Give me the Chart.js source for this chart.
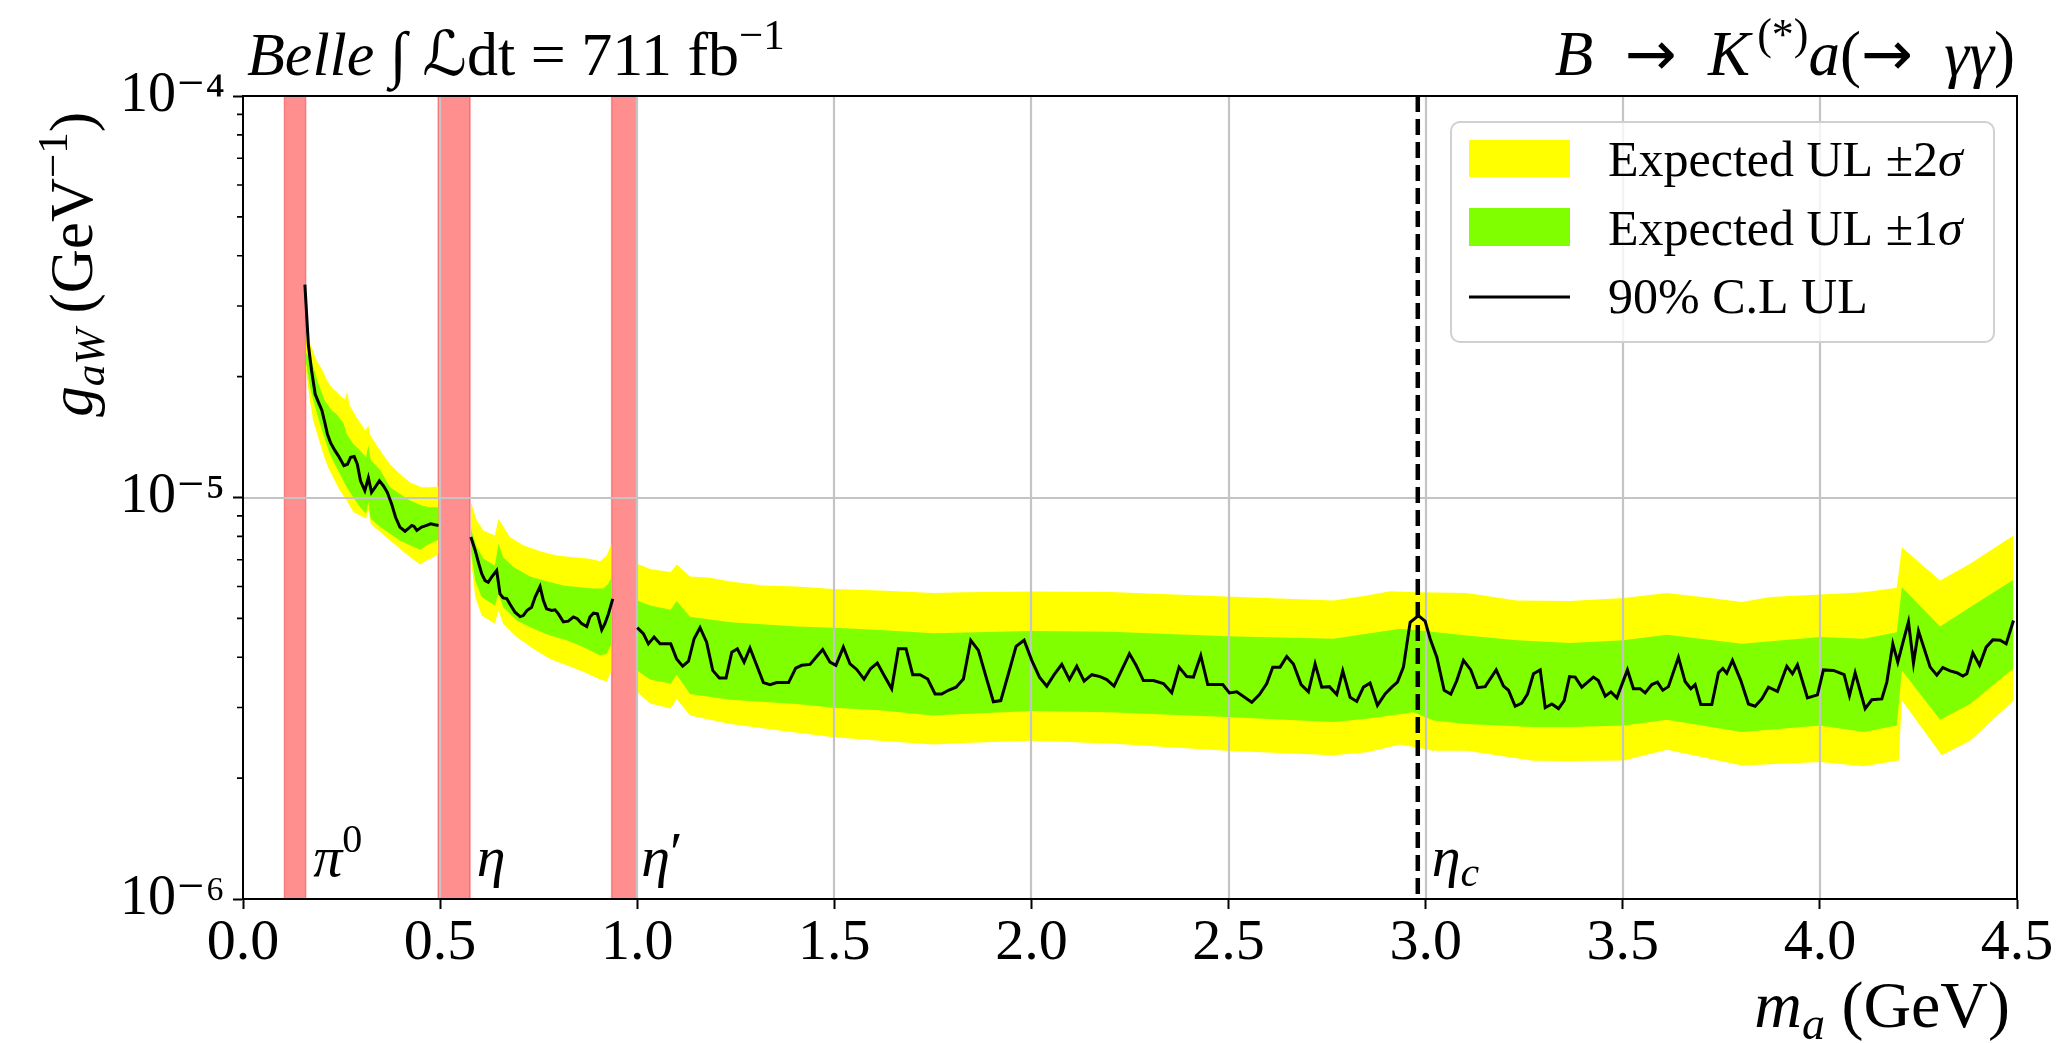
<!DOCTYPE html>
<html><head><meta charset="utf-8">
<script src="https://cdn.jsdelivr.net/npm/chart.js@4/dist/chart.umd.min.js"></script>
<style>html,body{margin:0;padding:0;background:#fff;overflow:hidden}#wrap{position:relative;width:2060px;height:1043px}canvas{display:block}</style>
</head><body><div id="wrap"><canvas id="c" width="2060" height="1043"></canvas></div>
<script>
// ---------------- DATA (mass in GeV, g_aW in GeV^-1) ----------------
const xTickValues = [0, 0.5, 1.0, 1.5, 2.0, 2.5, 3.0, 3.5, 4.0, 4.5];
const xTickLabels = ['0.0','0.5','1.0','1.5','2.0','2.5','3.0','3.5','4.0','4.5'];
const yTickValues = [1e-6, 1e-5, 1e-4];
const yTickLabels = ['10\u207B\u2076','10\u207B\u2075','10\u207B\u2074'];
const yMinorValues = [2e-6,3e-6,4e-6,5e-6,6e-6,7e-6,8e-6,9e-6,2e-5,3e-5,4e-5,5e-5,6e-5,7e-5,8e-5,9e-5];

const vetoRegions = [[0.105,0.159],[0.495,0.576],[0.935,0.999]];
const vetoLabelPos = [0.178, 0.593, 1.010];
const etaCMass = 2.98;

// observed 90% C.L. upper limit, three mass segments
const ulA = [[0.157,3.39e-5],[0.166,2.39e-5],[0.174,2.07e-5],[0.183,1.81e-5],[0.191,1.73e-5],[0.200,1.65e-5],[0.208,1.53e-5],[0.214,1.44e-5],[0.222,1.37e-5],[0.233,1.31e-5],[0.242,1.27e-5],[0.256,1.20e-5],[0.265,1.21e-5],[0.273,1.26e-5],[0.282,1.265e-5],[0.290,1.21e-5],[0.298,1.10e-5],[0.309,1.04e-5],[0.318,1.12e-5],[0.326,1.03e-5],[0.335,1.06e-5],[0.346,1.10e-5],[0.356,1.07e-5],[0.366,1.03e-5],[0.377,9.64e-6],[0.387,8.93e-6],[0.398,8.44e-6],[0.411,8.24e-6],[0.419,8.36e-6],[0.428,8.52e-6],[0.434,8.47e-6],[0.441,8.28e-6],[0.453,8.44e-6],[0.466,8.52e-6],[0.476,8.60e-6],[0.487,8.55e-6],[0.496,8.52e-6]];
const ulB = [[0.578,7.97e-6],[0.589,7.38e-6],[0.597,6.90e-6],[0.6055,6.46e-6],[0.614,6.21e-6],[0.622,6.15e-6],[0.631,6.34e-6],[0.6435,6.58e-6],[0.652,5.75e-6],[0.660,5.62e-6],[0.669,5.60e-6],[0.677,5.43e-6],[0.690,5.18e-6],[0.703,5.05e-6],[0.711,5.08e-6],[0.720,5.23e-6],[0.732,5.33e-6],[0.741,5.65e-6],[0.7535,6.00e-6],[0.762,5.54e-6],[0.770,5.28e-6],[0.783,5.23e-6],[0.7915,5.25e-6],[0.800,5.13e-6],[0.8126,4.90e-6],[0.825,4.92e-6],[0.838,5.04e-6],[0.848,4.99e-6],[0.859,4.85e-6],[0.872,4.77e-6],[0.880,5.04e-6],[0.889,5.15e-6],[0.899,5.13e-6],[0.910,4.68e-6],[0.918,4.85e-6],[0.927,5.13e-6],[0.938,5.59e-6]];
const ulC = [[1.000,4.74e-6],[1.0156,4.58e-6],[1.0283,4.32e-6],[1.0427,4.49e-6],[1.0579,4.32e-6],[1.085,4.32e-6],[1.100,3.96e-6],[1.1153,3.80e-6],[1.130,3.91e-6],[1.1443,4.45e-6],[1.1593,4.74e-6],[1.176,4.36e-6],[1.1915,3.71e-6],[1.2083,3.55e-6],[1.2253,3.55e-6],[1.2399,4.12e-6],[1.254,4.20e-6],[1.2711,3.89e-6],[1.286,4.22e-6],[1.303,3.82e-6],[1.320,3.46e-6],[1.337,3.42e-6],[1.354,3.46e-6],[1.384,3.46e-6],[1.402,3.76e-6],[1.4172,3.82e-6],[1.4383,3.84e-6],[1.4536,4.00e-6],[1.4705,4.18e-6],[1.489,3.89e-6],[1.504,3.82e-6],[1.5229,4.24e-6],[1.5398,3.85e-6],[1.5567,3.73e-6],[1.5753,3.53e-6],[1.5922,3.75e-6],[1.6091,3.87e-6],[1.626,3.61e-6],[1.6455,3.34e-6],[1.6624,4.20e-6],[1.6818,4.20e-6],[1.6988,3.62e-6],[1.7174,3.62e-6],[1.7368,3.53e-6],[1.7555,3.24e-6],[1.7724,3.24e-6],[1.7893,3.31e-6],[1.8088,3.37e-6],[1.8274,3.53e-6],[1.846,4.41e-6],[1.8655,4.16e-6],[1.885,3.57e-6],[1.9035,3.10e-6],[1.9222,3.12e-6],[1.9416,3.64e-6],[1.961,4.26e-6],[1.9813,4.41e-6],[2.0008,3.93e-6],[2.0203,3.57e-6],[2.0389,3.39e-6],[2.0575,3.62e-6],[2.077,3.84e-6],[2.0964,3.52e-6],[2.115,3.80e-6],[2.1337,3.49e-6],[2.1531,3.62e-6],[2.1742,3.58e-6],[2.191,3.52e-6],[2.2096,3.39e-6],[2.2485,4.08e-6],[2.2654,3.82e-6],[2.284,3.50e-6],[2.3094,3.50e-6],[2.3348,3.44e-6],[2.3559,3.265e-6],[2.3745,3.78e-6],[2.394,3.58e-6],[2.4109,3.57e-6],[2.4295,4.04e-6],[2.4472,3.42e-6],[2.4853,3.42e-6],[2.5022,3.26e-6],[2.5208,3.28e-6],[2.5589,3.09e-6],[2.5783,3.23e-6],[2.5969,3.44e-6],[2.6121,3.78e-6],[2.6307,3.78e-6],[2.6476,4.02e-6],[2.6645,3.85e-6],[2.684,3.42e-6],[2.7026,3.28e-6],[2.7195,3.85e-6],[2.7364,3.37e-6],[2.7558,3.38e-6],[2.7745,3.23e-6],[2.7897,3.70e-6],[2.8083,3.18e-6],[2.8252,3.105e-6],[2.8421,3.37e-6],[2.859,3.45e-6],[2.8777,3.035e-6],[2.8971,3.24e-6],[2.914,3.37e-6],[2.9284,3.47e-6],[2.9436,3.78e-6],[2.9606,4.89e-6],[2.9817,5.08e-6],[2.9986,4.92e-6],[3.0113,4.45e-6],[3.0283,4.00e-6],[3.0469,3.31e-6],[3.0638,3.24e-6],[3.079,3.50e-6],[3.0959,3.93e-6],[3.1145,3.72e-6],[3.1314,3.36e-6],[3.1509,3.38e-6],[3.1788,3.72e-6],[3.1974,3.39e-6],[3.2101,3.31e-6],[3.227,3.02e-6],[3.2439,3.075e-6],[3.2583,3.24e-6],[3.2735,3.64e-6],[3.2905,3.72e-6],[3.3032,2.995e-6],[3.3201,3.06e-6],[3.337,2.98e-6],[3.3514,3.12e-6],[3.3649,3.58e-6],[3.3793,3.57e-6],[3.396,3.37e-6],[3.4255,3.57e-6],[3.438,3.50e-6],[3.4555,3.20e-6],[3.4699,3.28e-6],[3.4851,3.17e-6],[3.5118,3.72e-6],[3.527,3.34e-6],[3.544,3.34e-6],[3.5567,3.26e-6],[3.5736,3.42e-6],[3.5879,3.47e-6],[3.6015,3.31e-6],[3.6158,3.38e-6],[3.6412,4.00e-6],[3.6581,3.48e-6],[3.6725,3.34e-6],[3.6835,3.42e-6],[3.6979,3.05e-6],[3.7258,3.05e-6],[3.7427,3.66e-6],[3.7537,3.75e-6],[3.7638,3.65e-6],[3.7782,3.93e-6],[3.7994,3.50e-6],[3.8188,3.06e-6],[3.8357,3.02e-6],[3.8526,3.15e-6],[3.8695,3.37e-6],[3.8924,3.29e-6],[3.916,3.80e-6],[3.9304,3.64e-6],[3.9431,3.83e-6],[3.9685,3.17e-6],[3.9938,3.225e-6],[4.009,3.72e-6],[4.0344,3.71e-6],[4.0615,3.62e-6],[4.075,3.21e-6],[4.0894,3.66e-6],[4.1148,2.98e-6],[4.1317,3.135e-6],[4.1571,3.15e-6],[4.1698,3.47e-6],[4.185,4.32e-6],[4.1976,3.89e-6],[4.212,4.41e-6],[4.2247,4.90e-6],[4.2374,3.87e-6],[4.2501,4.65e-6],[4.2797,3.78e-6],[4.2966,3.61e-6],[4.3118,3.77e-6],[4.3304,3.70e-6],[4.3473,3.66e-6],[4.3626,3.59e-6],[4.3727,3.64e-6],[4.3879,4.10e-6],[4.4049,3.82e-6],[4.4218,4.24e-6],[4.4387,4.42e-6],[4.4573,4.41e-6],[4.4725,4.32e-6],[4.4911,4.94e-6]];

// expected UL bands: +2σ, +1σ, -1σ, -2σ edges for each segment
const exp2UpA = [[0.159,2.55e-5],[0.174,2.37e-5],[0.187,2.19e-5],[0.200,2.09e-5],[0.214,1.95e-5],[0.225,1.88e-5],[0.238,1.83e-5],[0.250,1.78e-5],[0.259,1.76e-5],[0.264,1.84e-5],[0.270,1.70e-5],[0.288,1.585e-5],[0.310,1.47e-5],[0.318,1.51e-5],[0.323,1.43e-5],[0.348,1.31e-5],[0.373,1.21e-5],[0.398,1.145e-5],[0.424,1.09e-5],[0.453,1.06e-5],[0.474,1.06e-5],[0.496,1.065e-5]];
const exp1UpA = [[0.159,2.30e-5],[0.174,2.19e-5],[0.191,1.92e-5],[0.208,1.74e-5],[0.225,1.65e-5],[0.238,1.61e-5],[0.255,1.53e-5],[0.263,1.44e-5],[0.280,1.36e-5],[0.297,1.31e-5],[0.312,1.26e-5],[0.318,1.35e-5],[0.324,1.24e-5],[0.348,1.17e-5],[0.373,1.06e-5],[0.398,1.02e-5],[0.424,9.83e-6],[0.453,9.55e-6],[0.474,9.46e-6],[0.496,9.46e-6]];
const exp1LoA = [[0.159,2.20e-5],[0.170,1.88e-5],[0.183,1.68e-5],[0.195,1.53e-5],[0.208,1.39e-5],[0.221,1.28e-5],[0.233,1.21e-5],[0.246,1.145e-5],[0.263,1.06e-5],[0.280,1.00e-5],[0.297,9.46e-6],[0.312,9.11e-6],[0.318,9.74e-6],[0.324,8.85e-6],[0.348,8.44e-6],[0.373,8.12e-6],[0.398,7.82e-6],[0.424,7.60e-6],[0.449,7.41e-6],[0.466,7.60e-6],[0.496,7.85e-6]];
const exp2LoA = [[0.159,2.10e-5],[0.170,1.74e-5],[0.178,1.555e-5],[0.191,1.41e-5],[0.204,1.28e-5],[0.216,1.19e-5],[0.229,1.12e-5],[0.246,1.04e-5],[0.263,9.83e-6],[0.280,9.20e-6],[0.297,9.02e-6],[0.312,8.85e-6],[0.318,9.28e-6],[0.324,8.60e-6],[0.348,8.20e-6],[0.373,7.82e-6],[0.398,7.45e-6],[0.424,7.10e-6],[0.449,6.81e-6],[0.466,6.97e-6],[0.483,7.10e-6],[0.496,7.24e-6]];

const exp2UpB = [[0.578,9.74e-6],[0.593,8.77e-6],[0.610,8.28e-6],[0.639,8.04e-6],[0.648,8.85e-6],[0.656,8.60e-6],[0.677,7.97e-6],[0.711,7.60e-6],[0.7535,7.35e-6],[0.796,7.17e-6],[0.838,7.10e-6],[0.880,7.04e-6],[0.906,6.94e-6],[0.9225,7.17e-6],[0.935,7.67e-6]];
const exp1UpB = [[0.578,8.36e-6],[0.593,7.52e-6],[0.610,7.04e-6],[0.639,6.77e-6],[0.648,7.67e-6],[0.660,7.10e-6],[0.686,6.71e-6],[0.728,6.36e-6],[0.770,6.19e-6],[0.813,6.04e-6],[0.855,5.98e-6],[0.889,5.93e-6],[0.914,5.93e-6],[0.927,6.10e-6],[0.935,6.34e-6]];
const exp1LoB = [[0.578,7.38e-6],[0.589,6.21e-6],[0.6055,5.65e-6],[0.639,5.38e-6],[0.648,5.75e-6],[0.660,5.33e-6],[0.694,4.94e-6],[0.7365,4.71e-6],[0.779,4.53e-6],[0.821,4.41e-6],[0.863,4.24e-6],[0.906,4.04e-6],[0.9225,4.08e-6],[0.935,4.32e-6]];
const exp2LoB = [[0.578,7.10e-6],[0.589,5.65e-6],[0.6055,5.08e-6],[0.639,4.85e-6],[0.648,5.23e-6],[0.660,4.85e-6],[0.694,4.49e-6],[0.7365,4.20e-6],[0.779,3.96e-6],[0.821,3.82e-6],[0.863,3.68e-6],[0.906,3.52e-6],[0.9225,3.48e-6],[0.935,3.70e-6]];

const exp2UpC = [[1.000,6.84e-6],[1.0325,6.64e-6],[1.085,6.52e-6],[1.100,6.81e-6],[1.134,6.36e-6],[1.185,6.31e-6],[1.236,6.18e-6],[1.320,6.04e-6],[1.405,6.00e-6],[1.498,5.92e-6],[1.616,5.87e-6],[1.751,5.78e-6],[1.827,5.81e-6],[2.000,5.83e-6],[2.200,5.82e-6],[2.495,5.67e-6],[2.766,5.54e-6],[2.851,5.70e-6],[2.910,5.84e-6],[2.978,5.81e-6],[3.104,5.78e-6],[3.231,5.54e-6],[3.366,5.52e-6],[3.502,5.62e-6],[3.612,5.78e-6],[3.722,5.62e-6],[3.802,5.49e-6],[3.874,5.65e-6],[4.001,5.73e-6],[4.111,5.81e-6],[4.195,5.96e-6],[4.208,7.52e-6],[4.305,6.21e-6],[4.381,6.84e-6],[4.491,8.04e-6]];
const exp1UpC = [[1.000,5.54e-6],[1.0325,5.38e-6],[1.085,5.25e-6],[1.100,5.52e-6],[1.134,5.05e-6],[1.236,4.89e-6],[1.405,4.77e-6],[1.498,4.74e-6],[1.616,4.68e-6],[1.751,4.59e-6],[2.000,4.65e-6],[2.200,4.63e-6],[2.495,4.51e-6],[2.766,4.45e-6],[2.851,4.58e-6],[2.935,4.71e-6],[2.978,4.67e-6],[3.104,4.53e-6],[3.231,4.41e-6],[3.366,4.34e-6],[3.502,4.41e-6],[3.612,4.55e-6],[3.802,4.32e-6],[4.001,4.49e-6],[4.111,4.45e-6],[4.195,4.62e-6],[4.208,5.98e-6],[4.305,4.77e-6],[4.381,5.33e-6],[4.491,6.24e-6]];
const exp1LoC = [[1.000,3.71e-6],[1.0325,3.52e-6],[1.085,3.44e-6],[1.100,3.62e-6],[1.134,3.24e-6],[1.236,3.135e-6],[1.405,3.06e-6],[1.498,2.995e-6],[1.616,2.95e-6],[1.751,2.866e-6],[1.827,2.89e-6],[2.000,2.94e-6],[2.200,2.92e-6],[2.495,2.84e-6],[2.766,2.76e-6],[2.851,2.81e-6],[2.969,2.92e-6],[3.020,2.785e-6],[3.104,2.73e-6],[3.273,2.68e-6],[3.366,2.68e-6],[3.502,2.705e-6],[3.612,2.796e-6],[3.802,2.606e-6],[4.001,2.705e-6],[4.111,2.606e-6],[4.195,2.705e-6],[4.208,3.71e-6],[4.305,2.796e-6],[4.381,3.06e-6],[4.491,3.75e-6]];
const exp2LoC = [[1.000,3.28e-6],[1.0325,3.07e-6],[1.085,2.98e-6],[1.100,3.15e-6],[1.134,2.866e-6],[1.236,2.73e-6],[1.362,2.63e-6],[1.498,2.53e-6],[1.616,2.48e-6],[1.751,2.427e-6],[1.827,2.445e-6],[2.000,2.48e-6],[2.200,2.44e-6],[2.495,2.34e-6],[2.766,2.28e-6],[2.851,2.32e-6],[2.935,2.427e-6],[3.020,2.34e-6],[3.104,2.34e-6],[3.273,2.21e-6],[3.366,2.206e-6],[3.502,2.214e-6],[3.612,2.355e-6],[3.802,2.15e-6],[4.001,2.193e-6],[4.111,2.14e-6],[4.200,2.214e-6],[4.208,3.12e-6],[4.309,2.28e-6],[4.381,2.48e-6],[4.491,3.12e-6]];

const legendLabels = ['Expected UL \u00B12', 'Expected UL \u00B11', '90% C.L UL'];

// ---------------- CHART ----------------
const SERIF = '"Liberation Serif","DejaVu Serif","DejaVu Sans",serif';
const YELLOW = '#ffff00', GREEN = '#7fff00';
const fnt = (size, italic) => (italic ? 'italic ' : '') + size + 'px ' + SERIF;
const ARROW_FONT = '62px "DejaVu Sans"';
const toPts = a => a.map(p => ({x: p[0], y: p[1]}));

const datasets = [];
[[exp2UpA, exp2LoA, exp1UpA, exp1LoA], [exp2UpB, exp2LoB, exp1UpB, exp1LoB], [exp2UpC, exp2LoC, exp1UpC, exp1LoC]].forEach(([y2u, y2l, y1u, y1l]) => {
  const base = {borderWidth: 0, borderColor: 'rgba(0,0,0,0)', pointRadius: 0, tension: 0};
  datasets.push(Object.assign({data: toPts(y2u), fill: '+1', backgroundColor: YELLOW, order: 2}, base));
  datasets.push(Object.assign({data: toPts(y2l), fill: false, order: 2}, base));
  datasets.push(Object.assign({data: toPts(y1u), fill: '+1', backgroundColor: GREEN, order: 1}, base));
  datasets.push(Object.assign({data: toPts(y1l), fill: false, order: 1}, base));
});
const LINE_INDEX = datasets.length;
datasets.push({
  data: [...toPts(ulA), {x: 0.537, y: null}, ...toPts(ulB), {x: 0.969, y: null}, ...toPts(ulC)],
  borderColor: '#000', borderWidth: 3, pointRadius: 0, fill: false, spanGaps: false, tension: 0, order: 0,
  borderJoinStyle: 'miter'
});

function drawRich(ctx, parts, x, y, align) {
  let w = 0;
  parts.forEach(p => { ctx.font = p.f; p.w = ctx.measureText(p.t).width + (p.dx || 0); w += p.w; });
  let cx = align === 'right' ? x - w : (align === 'center' ? x - w / 2 : x);
  parts.forEach(p => { ctx.font = p.f; ctx.fillText(p.t, cx + (p.dx || 0), y + (p.dy || 0)); cx += p.w; });
  return w;
}

const decor = {
  id: 'decor',
  beforeDatasetsDraw(chart) {
    const {ctx, chartArea: a, scales: {x}} = chart;
    ctx.save();
    vetoRegions.forEach(([lo, hi]) => {
      const x0 = x.getPixelForValue(lo), x1 = x.getPixelForValue(hi);
      ctx.fillStyle = 'rgba(255,0,0,0.44)';
      ctx.fillRect(x0, a.top, x1 - x0, a.bottom - a.top);
      ctx.strokeStyle = 'rgba(255,0,0,0.35)';
      ctx.lineWidth = 1.5;
      ctx.beginPath();
      ctx.moveTo(x0, a.top); ctx.lineTo(x0, a.bottom);
      ctx.moveTo(x1, a.top); ctx.lineTo(x1, a.bottom);
      ctx.stroke();
    });
    ctx.restore();
  },
  beforeDatasetDraw(chart, args) {
    if (args.index !== LINE_INDEX) return;
    const {ctx, chartArea: a, scales: {x, y}} = chart;
    ctx.save();
    ctx.strokeStyle = '#c4c4c4';
    ctx.lineWidth = 2.2;
    ctx.beginPath();
    xTickValues.forEach(v => {
      if (v <= 0 || v >= 4.5) return;
      const px = Math.round(x.getPixelForValue(v));
      ctx.moveTo(px, a.top); ctx.lineTo(px, a.bottom);
    });
    yTickValues.forEach(v => {
      const py = Math.round(y.getPixelForValue(v));
      if (py <= a.top + 1 || py >= a.bottom - 1) return;
      ctx.moveTo(a.left, py); ctx.lineTo(a.right, py);
    });
    ctx.stroke();
    ctx.restore();
  },
  afterDatasetsDraw(chart) {
    const {ctx, chartArea: a, scales: {x, y}} = chart;
    ctx.save();
    // eta_c dashed line
    const xe = x.getPixelForValue(etaCMass);
    ctx.strokeStyle = '#000'; ctx.lineWidth = 4.5; ctx.setLineDash([16, 7]);
    ctx.beginPath(); ctx.moveTo(xe, a.top); ctx.lineTo(xe, a.bottom); ctx.stroke();
    ctx.setLineDash([]);
    // frame
    ctx.lineWidth = 2; ctx.strokeStyle = '#000';
    ctx.strokeRect(a.left, a.top, a.right - a.left, a.bottom - a.top);
    // minor y ticks
    ctx.lineWidth = 1.6;
    ctx.beginPath();
    yMinorValues.forEach(v => {
      const py = y.getPixelForValue(v);
      ctx.moveTo(a.left - 6, py); ctx.lineTo(a.left, py);
    });
    ctx.stroke();
    // resonance labels
    ctx.fillStyle = '#000';
    ctx.textBaseline = 'alphabetic';
    const by = 876;
    drawRich(ctx, [{t: '\u03C0', f: fnt(58, true)}, {t: '0', f: fnt(40, false), dy: -24}], x.getPixelForValue(vetoLabelPos[0]), by, 'left');
    drawRich(ctx, [{t: '\u03B7', f: fnt(58, true)}], x.getPixelForValue(vetoLabelPos[1]), by, 'left');
    drawRich(ctx, [{t: '\u03B7', f: fnt(58, true)}, {t: '\u2032', f: fnt(58, false), dy: -4}], x.getPixelForValue(vetoLabelPos[2]), by, 'left');
    drawRich(ctx, [{t: '\u03B7', f: fnt(58, true)}, {t: 'c', f: fnt(42, true), dy: 10}], x.getPixelForValue(etaCMass) + 14, by, 'left');
    ctx.restore();
  },
  afterDraw(chart) {
    const {ctx} = chart;
    ctx.save();
    ctx.fillStyle = '#000';
    ctx.textBaseline = 'alphabetic';
    // top-left title
    drawRich(ctx, [
      {t: 'Belle', f: fnt(62, true)},
      {t: ' \u222B ', f: fnt(62, false)},
      {t: '\u2112', f: fnt(62, true)},
      {t: 'dt = 711 fb', f: fnt(62, false)},
      {t: '\u22121', f: fnt(43, false), dy: -26}
    ], 247, 75, 'left');
    // top-right title
    drawRich(ctx, [
      {t: 'B', f: fnt(63, true)},
      {t: '\u2002', f: fnt(63, false)},
      {t: '\u2192', f: ARROW_FONT},
      {t: '\u2002', f: fnt(63, false)},
      {t: 'K', f: fnt(63, true)},
      {t: '(*)', f: fnt(44, false), dy: -26, dx: 7},
      {t: 'a', f: fnt(63, true)},
      {t: '(', f: fnt(63, false)},
      {t: '\u2192', f: ARROW_FONT},
      {t: '\u2002', f: fnt(63, false)},
      {t: '\u03B3\u03B3', f: fnt(63, true)},
      {t: ')', f: fnt(63, false)}
    ], 2015, 75, 'right');
    // x axis title
    drawRich(ctx, [
      {t: 'm', f: fnt(66, true)},
      {t: 'a', f: fnt(46, true), dy: 12},
      {t: ' (GeV)', f: fnt(66, false)}
    ], 2010, 1027, 'right');
    // y axis title (rotated)
    ctx.save();
    ctx.translate(92, 112);
    ctx.rotate(-Math.PI / 2);
    drawRich(ctx, [
      {t: 'g', f: fnt(61, true)},
      {t: 'aW', f: fnt(43, true), dy: 12},
      {t: ' (GeV', f: fnt(61, false)},
      {t: '\u22121', f: fnt(43, false), dy: -25},
      {t: ')', f: fnt(61, false)}
    ], 0, 0, 'right');
    ctx.restore();
    // legend
    const L = {x0: 1451, y0: 122, x1: 1994, y1: 342, r: 9};
    ctx.beginPath();
    ctx.roundRect(L.x0, L.y0, L.x1 - L.x0, L.y1 - L.y0, L.r);
    ctx.fillStyle = 'rgba(255,255,255,0.8)';
    ctx.fill();
    ctx.strokeStyle = '#d0d0d0'; ctx.lineWidth = 2; ctx.stroke();
    ctx.fillStyle = YELLOW; ctx.fillRect(1469, 140, 101, 37);
    ctx.fillStyle = GREEN; ctx.fillRect(1469, 208, 101, 38);
    ctx.strokeStyle = '#000'; ctx.lineWidth = 3;
    ctx.beginPath(); ctx.moveTo(1469, 297); ctx.lineTo(1570, 297); ctx.stroke();
    ctx.fillStyle = '#000';
    drawRich(ctx, [{t: legendLabels[0], f: fnt(50, false)}, {t: '\u03C3', f: fnt(50, true)}], 1608, 176, 'left');
    drawRich(ctx, [{t: legendLabels[1], f: fnt(50, false)}, {t: '\u03C3', f: fnt(50, true)}], 1608, 245, 'left');
    drawRich(ctx, [{t: legendLabels[2], f: fnt(50, false)}], 1608, 313, 'left');
    ctx.restore();
  }
};

new Chart(document.getElementById('c'), {
  type: 'line',
  data: {datasets},
  options: {
    responsive: false, animation: false, devicePixelRatio: 1,
    layout: {padding: {top: 96, right: 43, left: 0, bottom: 0}},
    plugins: {legend: {display: false}, tooltip: {enabled: false}, filler: {propagate: false}},
    scales: {
      x: {
        type: 'linear', min: 0, max: 4.5,
        afterFit(s) { s.height = 144; },
        afterBuildTicks(s) { s.ticks = xTickValues.map(v => ({value: v})); },
        ticks: {callback: (v, i) => xTickLabels[i], font: {family: SERIF, size: 58}, color: '#000', padding: 0, maxRotation: 0, autoSkip: false},
        grid: {drawOnChartArea: false, drawTicks: true, tickLength: 10, tickColor: '#000', tickWidth: 2},
        border: {display: true, color: '#000', width: 2}
      },
      y: {
        type: 'logarithmic', min: 1e-6, max: 1e-4,
        afterFit(s) { s.width = 243; },
        afterBuildTicks(s) { s.ticks = yTickValues.map(v => ({value: v})); },
        ticks: {callback: (v, i) => yTickLabels[i], font: {family: SERIF, size: 56}, color: '#000', padding: 8, autoSkip: false},
        grid: {drawOnChartArea: false, drawTicks: true, tickLength: 10, tickColor: '#000', tickWidth: 2},
        border: {display: true, color: '#000', width: 2}
      }
    }
  },
  plugins: [decor]
});
</script>
</body></html>
